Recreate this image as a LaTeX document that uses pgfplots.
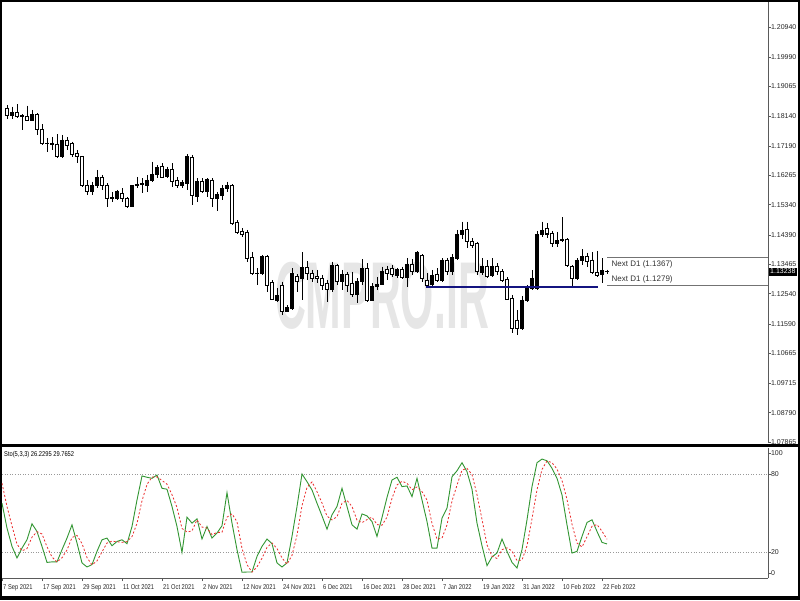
\documentclass[border=0pt]{standalone}
\usepackage{fontspec}
\setmainfont{Liberation Sans}
\newfontfamily\narrowfont[FakeStretch=0.82]{Liberation Sans}
\newfontfamily\wmfont[FakeStretch=0.45]{Liberation Sans}
\usepackage{pgfplots}
\usepackage{pgfplotstable}
\pgfplotsset{compat=1.18}
\definecolor{stogreen}{RGB}{50,150,50}
\definecolor{stored}{RGB}{235,45,45}
\definecolor{navyline}{RGB}{20,20,128}
\definecolor{wm}{RGB}{230,230,230}
\definecolor{spine}{RGB}{90,90,90}

% white candles (o > c)
\pgfplotstableread{
i o h l c
0 1.1838 1.1848 1.1804 1.1815
2 1.1825 1.1851 1.1806 1.1811
3 1.1815 1.1819 1.1770 1.1813
4 1.1812 1.1846 1.1800 1.1801
6 1.1819 1.1822 1.1754 1.1770
7 1.1770 1.1788 1.1722 1.1728
8 1.1728 1.1745 1.1701 1.1726
9 1.1728 1.1748 1.1707 1.1725
10 1.1725 1.1756 1.1682 1.1685
12 1.1738 1.1748 1.1707 1.1722
13 1.1728 1.1733 1.1685 1.1691
14 1.1696 1.1707 1.1665 1.1685
15 1.1685 1.1688 1.1591 1.1596
16 1.1596 1.1612 1.1565 1.1575
19 1.1619 1.1628 1.1581 1.1596
20 1.1596 1.1602 1.1528 1.1554
21 1.1556 1.1575 1.1544 1.1554
23 1.1570 1.1586 1.1544 1.1554
24 1.1554 1.1559 1.1523 1.1528
26 1.1598 1.1622 1.1586 1.1596
27 1.1600 1.1617 1.1570 1.1598
31 1.1654 1.1665 1.1617 1.1619
33 1.1644 1.1665 1.1591 1.1607
34 1.1609 1.1622 1.1586 1.1596
37 1.1682 1.1691 1.1533 1.1563
39 1.1607 1.1617 1.1570 1.1575
41 1.1612 1.1617 1.1528 1.1554
45 1.1594 1.1599 1.1470 1.1476
46 1.1479 1.1486 1.1441 1.1447
47 1.1451 1.1460 1.1434 1.1441
48 1.1447 1.1455 1.1355 1.1365
49 1.1367 1.1386 1.1313 1.1318
50 1.1319 1.1334 1.1281 1.1317
52 1.1370 1.1376 1.1260 1.1281
53 1.1290 1.1297 1.1234 1.1237
55 1.1281 1.1292 1.1187 1.1197
58 1.1307 1.1315 1.1260 1.1292
60 1.1336 1.1357 1.1297 1.1318
61 1.1318 1.1329 1.1292 1.1302
62 1.1307 1.1329 1.1287 1.1302
63 1.1302 1.1313 1.1266 1.1279
64 1.1287 1.1297 1.1229 1.1266
66 1.1342 1.1347 1.1281 1.1292
68 1.1315 1.1323 1.1258 1.1281
69 1.1287 1.1323 1.1244 1.1252
72 1.1332 1.1350 1.1229 1.1234
76 1.1329 1.1342 1.1297 1.1318
77 1.1332 1.1344 1.1307 1.1315
79 1.1329 1.1339 1.1300 1.1304
81 1.1347 1.1363 1.1313 1.1325
83 1.1374 1.1378 1.1292 1.1302
84 1.1297 1.1318 1.1279 1.1281
86 1.1315 1.1334 1.1292 1.1297
88 1.1360 1.1367 1.1313 1.1323
92 1.1455 1.1481 1.1397 1.1418
93 1.1418 1.1428 1.1397 1.1407
94 1.1413 1.1418 1.1313 1.1323
96 1.1341 1.1360 1.1302 1.1307
98 1.1341 1.1350 1.1313 1.1323
99 1.1323 1.1331 1.1292 1.1297
100 1.1299 1.1307 1.1234 1.1236
101 1.1239 1.1250 1.1129 1.1145
102 1.1171 1.1203 1.1124 1.1145
108 1.1460 1.1476 1.1428 1.1442
109 1.1444 1.1452 1.1402 1.1413
111 1.1425 1.1495 1.1418 1.1423
112 1.1425 1.1428 1.1339 1.1344
113 1.1339 1.1344 1.1274 1.1302
116 1.1370 1.1383 1.1339 1.1355
117 1.1360 1.1386 1.1316 1.1320
118 1.1320 1.1389 1.1307 1.1310
}\bear

% black candles (c > o)
\pgfplotstableread{
i o h l c
1 1.1815 1.1843 1.1804 1.1825
5 1.1801 1.1833 1.1798 1.1819
11 1.1685 1.1754 1.1680 1.1738
17 1.1575 1.1607 1.1565 1.1594
18 1.1596 1.1644 1.1586 1.1619
22 1.1554 1.1581 1.1549 1.1575
25 1.1528 1.1596 1.1527 1.1594
28 1.1594 1.1628 1.1575 1.1612
29 1.1609 1.1670 1.1607 1.1630
30 1.1630 1.1659 1.1617 1.1651
32 1.1622 1.1654 1.1617 1.1644
35 1.1596 1.1612 1.1586 1.1604
36 1.1602 1.1693 1.1581 1.1685
38 1.1559 1.1617 1.1544 1.1607
40 1.1575 1.1617 1.1559 1.1615
42 1.1554 1.1575 1.1514 1.1567
43 1.1563 1.1596 1.1549 1.1586
44 1.1586 1.1607 1.1575 1.1594
51 1.1318 1.1376 1.1313 1.1370
54 1.1234 1.1271 1.1229 1.1248
56 1.1199 1.1218 1.1197 1.1210
57 1.1206 1.1334 1.1203 1.1318
59 1.1302 1.1384 1.1234 1.1336
65 1.1266 1.1355 1.1260 1.1342
67 1.1292 1.1329 1.1266 1.1315
70 1.1252 1.1302 1.1224 1.1292
71 1.1292 1.1363 1.1281 1.1332
73 1.1234 1.1287 1.1231 1.1276
74 1.1276 1.1307 1.1266 1.1284
75 1.1284 1.1339 1.1281 1.1325
78 1.1311 1.1336 1.1302 1.1329
80 1.1304 1.1367 1.1276 1.1347
82 1.1325 1.1388 1.1318 1.1384
85 1.1284 1.1329 1.1276 1.1311
87 1.1297 1.1365 1.1292 1.1360
89 1.1323 1.1378 1.1313 1.1367
90 1.1365 1.1455 1.1360 1.1441
91 1.1439 1.1481 1.1425 1.1452
95 1.1320 1.1365 1.1313 1.1341
97 1.1310 1.1365 1.1307 1.1341
103 1.1145 1.1247 1.1140 1.1234
104 1.1234 1.1281 1.1229 1.1276
105 1.1271 1.1329 1.1266 1.1302
106 1.1271 1.1452 1.1266 1.1439
107 1.1439 1.1481 1.1434 1.1452
110 1.1413 1.1449 1.1402 1.1421
114 1.1302 1.1365 1.1297 1.1360
115 1.1358 1.1394 1.1344 1.1370
119 1.1316 1.1365 1.1287 1.1326
120 1.1323 1.1330 1.1316 1.1324
}\bull

% stochastic %K and %D
\pgfplotstableread{
i k d
-1 57.5 72.9
0 38.4 55.0
1 24.3 40.1
2 15.4 26.0
3 23.0 20.9
4 29.4 22.6
5 41.7 31.4
6 35.8 35.6
7 24.3 33.9
8 12.0 24.0
9 12.4 16.2
10 12.4 12.3
11 21.8 15.5
12 30.7 21.6
13 40.9 31.1
14 26.9 32.8
15 11.6 26.5
16 8.5 15.7
17 10.3 10.1
18 20.5 13.1
19 29.4 20.1
20 30.7 26.9
21 24.8 28.3
22 28.1 27.9
23 29.4 27.4
24 26.4 28.0
25 39.6 31.8
26 60.0 42.0
27 78.5 59.4
28 77.5 72.0
29 76.7 77.6
30 79.2 77.8
31 69.0 75.0
32 68.3 72.2
33 55.0 64.1
34 39.6 54.3
35 19.7 38.1
36 46.8 35.4
37 42.2 36.2
38 45.5 44.8
39 30.0 39.2
40 39.6 38.4
41 30.7 33.4
42 34.6 35.0
43 40.2 35.2
44 65.7 46.8
45 42.2 49.4
46 21.8 43.2
47 4.4 22.8
48 4.6 10.3
49 4.6 4.5
50 16.6 8.6
51 24.3 15.2
52 30.0 23.6
53 26.4 26.9
54 11.6 22.7
55 8.5 15.5
56 11.6 10.6
57 32.0 17.4
58 55.0 32.9
59 80.0 55.7
60 74.1 69.7
61 67.7 73.9
62 57.5 66.4
63 47.8 57.7
64 37.6 47.6
65 48.6 44.7
66 55.0 47.1
67 69.0 57.5
68 55.0 59.7
69 40.9 55.0
70 37.6 44.5
71 49.3 42.6
72 47.8 44.9
73 43.4 46.8
74 32.0 41.1
75 46.5 40.6
76 62.0 46.8
77 75.4 61.3
78 77.5 71.6
79 70.3 74.4
80 70.8 72.9
81 62.6 67.9
82 76.7 70.0
83 60.0 66.4
84 43.4 60.0
85 23.0 42.1
86 23.0 29.8
87 46.0 30.7
88 53.7 40.9
89 77.9 59.2
90 82.5 71.4
91 88.7 83.0
92 81.8 84.3
93 68.3 79.6
94 42.2 64.1
95 24.8 45.1
96 9.5 25.5
97 16.2 16.8
98 19.2 15.0
99 30.0 21.8
100 20.5 23.2
101 12.0 20.8
102 7.7 13.4
103 21.8 13.8
104 44.8 24.8
105 70.3 45.6
106 88.7 67.9
107 91.5 83.5
108 90.2 90.1
109 84.4 88.7
110 76.7 83.8
111 63.9 75.0
112 40.9 60.5
113 19.2 41.3
114 20.5 26.9
115 32.0 23.9
116 42.7 31.7
117 44.8 39.8
118 35.8 41.1
119 27.4 36.0
120 26.2 29.8
}\sto

\pgfplotsset{
  wick/.style={draw=none, mark=none, forget plot,
    error bars/.cd, y dir=minus, y explicit, error mark=none,
    error bar style={draw=black, solid, line width=0.9pt}},
  bodyblk/.style={draw=none, mark=none, forget plot,
    error bars/.cd, y dir=minus, y explicit, error mark=none,
    error bar style={draw=black, solid, line width=3.4pt}},
  bodywht/.style={draw=none, mark=none, forget plot,
    error bars/.cd, y dir=minus, y explicit, error mark=none,
    error bar style={draw=white, solid, line width=1.6pt}},
}

\begin{document}
\begin{tikzpicture}
\useasboundingbox (0pt,0pt) rectangle (800pt,600pt);
\fill[black] (0pt,0pt) rectangle (800pt,600pt);
\fill[white] (2pt,4pt) rectangle (797.5pt,598pt);

% ---------------- main price pane ----------------
\begin{axis}[
  at={(2pt,157pt)}, anchor=south west,
  width=766pt, height=441pt, scale only axis,
  xmin=-1, xmax=152.2, ymin=1.07837, ymax=1.21728,
  axis x line=none, axis y line*=right,
  axis line style={-, draw=spine, line width=0.8pt},
  xtick=\empty,
  ytick={1.20940,1.19990,1.19065,1.18140,1.17190,1.16265,1.15340,1.14390,1.13465,1.12540,1.11590,1.10665,1.09715,1.08790,1.07865},
  yticklabels={1.20940,1.19990,1.19065,1.18140,1.17190,1.16265,1.15340,1.14390,1.13465,1.12540,1.11590,1.10665,1.09715,1.08790,1.07865},
  tick align=outside, major tick length=3pt,
  tick style={draw=spine, line width=0.6pt},
  yticklabel style={font=\fontsize{7}{8}\selectfont, text=black!85, xshift=-3.5pt},
  clip=false,
]
\node[font=\wmfont\bfseries\fontsize{95}{95}\selectfont, text=wm] at (axis cs:75.0,1.1247) {CMPRO.IR};

\addplot[wick] table[x=i, y=h, y error minus expr=\thisrow{h}-\thisrow{l}] {\bear};
\addplot[wick] table[x=i, y=h, y error minus expr=\thisrow{h}-\thisrow{l}] {\bull};
\addplot[bodyblk] table[x=i, y expr=\thisrow{o}+0.00016, y error minus expr=\thisrow{o}-\thisrow{c}+0.00032] {\bear};
\addplot[bodyblk] table[x=i, y expr=\thisrow{c}+0.00016, y error minus expr=\thisrow{c}-\thisrow{o}+0.00032] {\bull};
\addplot[bodywht] table[x=i, y expr=\thisrow{o}-0.00016, y error minus expr={max(\thisrow{o}-\thisrow{c}-0.00032,0)}] {\bear};

% support line and next-D1 levels
\addplot[navyline, line width=1.6pt, forget plot] coordinates {(83.7,1.1275) (118.1,1.1275)};
\addplot[black!55, line width=0.8pt, forget plot] coordinates {(120.0,1.1367) (152.2,1.1367)};
\addplot[black!55, line width=0.8pt, forget plot] coordinates {(120.0,1.1279) (152.2,1.1279)};
\node[anchor=west, font=\fontsize{8}{9}\selectfont, text=black!80, inner sep=0pt] at (axis cs:120.9,1.1367) [yshift=-7pt] {Next D1 (1.1367)};
\node[anchor=west, font=\fontsize{8}{9}\selectfont, text=black!80, inner sep=0pt] at (axis cs:120.9,1.1279) [yshift=6pt] {Next D1 (1.1279)};
\coordinate (cp) at (axis cs:152.2,1.13238);
\end{axis}

% ---------------- stochastic pane ----------------
\begin{axis}[
  at={(2pt,22pt)}, anchor=south west,
  width=766pt, height=130pt, scale only axis,
  xmin=-1, xmax=152.2, ymin=0, ymax=100,
  axis x line*=bottom, axis y line*=right,
  axis line style={-, draw=spine, line width=0.8pt},
  xtick={-1,7,15,23,31,39,47,55,63,71,79,87,95,103,111,119},
  xticklabels={7 Sep 2021,17 Sep 2021,29 Sep 2021,11 Oct 2021,21 Oct 2021,2 Nov 2021,12 Nov 2021,24 Nov 2021,6 Dec 2021,16 Dec 2021,28 Dec 2021,7 Jan 2022,19 Jan 2022,31 Jan 2022,10 Feb 2022,22 Feb 2022},
  xticklabel style={anchor=north west, xshift=-2.3pt, font=\narrowfont\fontsize{7}{8}\selectfont, text=black!85},
  ytick={4,20,80,96}, yticklabels={0,20,80,100},
  yticklabel style={font=\fontsize{7}{8}\selectfont, text=black!85, xshift=-3.5pt},
  tick align=outside, major tick length=3pt,
  tick style={draw=spine, line width=0.6pt},
  clip=true,
]
\addplot[black!40, line width=0.6pt, dotted, forget plot] coordinates {(-1,80) (152.2,80)};
\addplot[black!40, line width=0.6pt, dotted, forget plot] coordinates {(-1,20) (152.2,20)};
\addplot[stogreen, line width=0.9pt] table[x=i, y=k] {\sto};
\addplot[stored, line width=0.8pt, dash pattern=on 2pt off 2pt] table[x=i, y=d] {\sto};
\node[anchor=west, font=\narrowfont\fontsize{7}{8}\selectfont, inner sep=0pt] at (rel axis cs:0,1) [xshift=2pt, yshift=-7pt] {Sto(5,3,3) 26.2295 29.7652};
\end{axis}

% pane separator
\fill[black] (0pt,153.5pt) rectangle (800pt,156.5pt);
% current price marker
\node[anchor=west, fill=black, text=white, inner xsep=1.5pt, inner ysep=1.5pt, font=\fontsize{7}{8}\selectfont] at ([xshift=0.5pt]cp) {1.13238};
\end{tikzpicture}
\end{document}
